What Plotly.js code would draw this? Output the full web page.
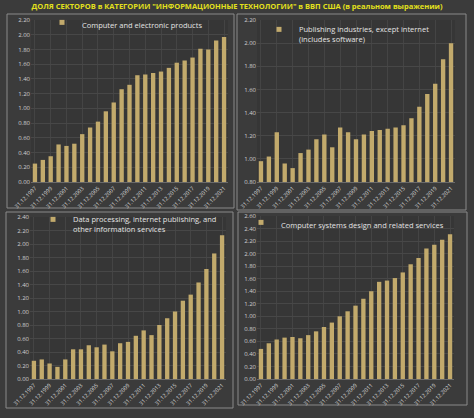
<!DOCTYPE html>
<html><head><meta charset="utf-8">
<script src="https://cdn.plot.ly/plotly-3.0.1.min.js"></script>
<style>html,body{margin:0;padding:0;background:#3b3b3b;}#c{width:474px;height:418px;}</style>
</head><body><div id="c"></div>
<script>
const years = ["31.12.1997","31.12.1998","31.12.1999","31.12.2000","31.12.2001","31.12.2002","31.12.2003","31.12.2004","31.12.2005","31.12.2006","31.12.2007","31.12.2008","31.12.2009","31.12.2010","31.12.2011","31.12.2012","31.12.2013","31.12.2014","31.12.2015","31.12.2016","31.12.2017","31.12.2018","31.12.2019","31.12.2020","31.12.2021"];
const tickLabels = years.filter((d,i)=>i%2===0);
const computerProducts = [0.25,0.30,0.35,0.51,0.49,0.52,0.65,0.74,0.82,0.96,1.08,1.26,1.32,1.45,1.46,1.48,1.50,1.55,1.62,1.65,1.69,1.81,1.80,1.92,1.97];
const publishing = [0.98,1.02,1.23,0.96,0.92,1.05,1.08,1.17,1.21,1.10,1.27,1.23,1.17,1.21,1.24,1.25,1.26,1.27,1.29,1.35,1.45,1.56,1.65,1.86,2.00];
const dataProcessing = [0.27,0.29,0.23,0.18,0.29,0.44,0.44,0.50,0.47,0.51,0.41,0.53,0.55,0.64,0.72,0.65,0.80,0.90,1.00,1.16,1.25,1.43,1.63,1.86,2.13];
const systemsDesign = [0.48,0.57,0.63,0.66,0.67,0.65,0.70,0.76,0.83,0.90,1.00,1.08,1.17,1.28,1.40,1.55,1.57,1.61,1.70,1.83,1.93,2.08,2.14,2.22,2.31];
const names = ["Computer and electronic products","Publishing industries, except internet<br>(includes software)","Data processing, internet publishing, and<br>other information services","Computer systems design and related services"];
const series = [computerProducts, publishing, dataProcessing, systemsDesign];
const barColor = "#c2aa6c";
const W=474,H=418;
const px = v=>v/W, py = v=>1-v/H;
const panels = [
 {x:[31,228], y:[182,20], r:[0,2.2], dt:0.2, box:[7,14,234,208], leg:[42,11]},
 {x:[257,455], y:[182,20], r:[0.8,2.2], dt:0.2, box:[237,14,466,210], leg:[259,18]},
 {x:[30,226], y:[379,217], r:[0,2.4], dt:0.2, box:[6,212,233,408], leg:[33,208]},
 {x:[257,454], y:[379,216], r:[0,2.6], dt:0.2, box:[238,212,467,405], leg:[241,211]}
];
const data=[]; const layout={width:W,height:H,margin:{l:0,r:0,t:0,b:0},paper_bgcolor:"#3b3b3b",plot_bgcolor:"#363636",
 showlegend:true,bargap:0.45,font:{family:"Open Sans, Liberation Sans, sans-serif",color:"#d0d0d0",size:7},
 title:{text:"<b>ДОЛЯ СЕКТОРОВ в КАТЕГОРИИ \"ИНФОРМАЦИОННЫЕ ТЕХНОЛОГИИ\" в ВВП США (в реальном выражении)</b>",font:{size:7.5,color:"#e3e01c",family:"Open Sans, sans-serif"},x:0.5,xanchor:"center",y:1-6/H,yanchor:"middle"},
 shapes:[]};
panels.forEach((p,i)=>{
  const k=i===0?"":String(i+1);
  const lk=i===0?"legend":"legend"+(i+1);
  data.push({type:"bar",x:years,y:series[i],name:names[i],marker:{color:barColor,line:{width:0}},xaxis:"x"+k,yaxis:"y"+k,showlegend:false});
  data.push({type:"scatter",mode:"markers",x:[null],y:[null],name:names[i],marker:{color:barColor,symbol:"square",size:5},xaxis:"x"+k,yaxis:"y"+k,legend:lk,showlegend:true});
  layout["xaxis"+k]={domain:[px(p.x[0]),px(p.x[1])],anchor:"y"+k,type:"category",tickvals:tickLabels,ticktext:tickLabels,tickangle:-45,tickfont:{size:5.5,color:"#d8d8d8"},showgrid:true,gridcolor:"#444444",showline:true,linecolor:"#6a6a6a",ticks:"",fixedrange:true};
  const tv=[];for(let v=p.r[0];v<=p.r[1]+1e-9;v+=p.dt)tv.push(+v.toFixed(2));
  layout["yaxis"+k]={domain:[py(p.y[0]),py(p.y[1])],anchor:"x"+k,range:p.r,tickvals:tv,ticktext:tv.map(v=>v.toFixed(2)),tickfont:{size:6,color:"#cfcfcf"},gridcolor:"#474747",zeroline:false,showline:false,ticks:"",fixedrange:true};
  layout[lk]={x:px(p.leg[0]),y:py(p.leg[1]),xanchor:"left",yanchor:"top",valign:"top",bgcolor:"rgba(0,0,0,0)",font:{size:7.5,color:"#e4e4e4"},itemwidth:30,itemsizing:"trace"};
  layout.shapes.push({type:"rect",xref:"paper",yref:"paper",x0:px(p.box[0]),x1:px(p.box[2]),y0:py(p.box[3]),y1:py(p.box[1]),line:{color:"#8a8a8a",width:1},fillcolor:"rgba(0,0,0,0)",layer:"below"});
});
Plotly.newPlot("c",data,layout,{displayModeBar:false,staticPlot:true});
</script></body></html>
